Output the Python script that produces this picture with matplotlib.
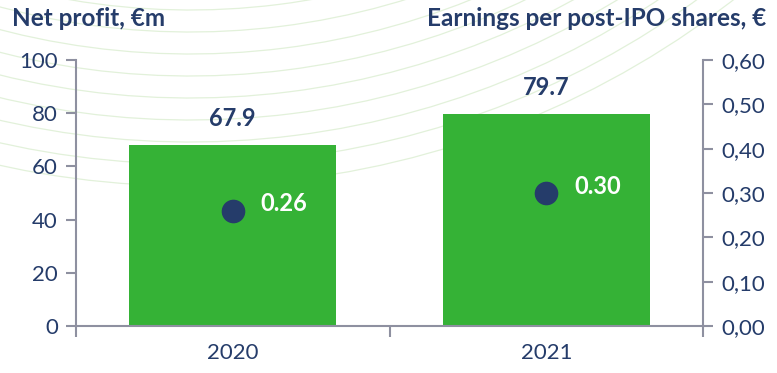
import matplotlib.pyplot as plt
import numpy as np
from matplotlib.patches import Arc

# data
years = ['2020', '2021']
net_profit = [67.9, 79.7]
eps = [0.26, 0.30]
left_ticks = [0, 20, 40, 60, 80, 100]
right_ticks = [0.0, 0.1, 0.2, 0.3, 0.4, 0.5, 0.6]

green = '#35B236'
navy = '#253C6A'
grey = '#8E90A0'

plt.rcParams['font.family'] = ['Lato', 'DejaVu Sans']

fig = plt.figure(figsize=(7.77, 3.73), dpi=100)

# faint decorative arcs in the background
for r in np.arange(710, 890, 22):
    arc = Arc((190 / 777, 1 + 700 / 373), 2 * r / 777, 2 * r / 373,
              theta1=230, theta2=330, transform=fig.transFigure,
              color='#E2F1DA', lw=0.9, zorder=0)
    fig.add_artist(arc)

ax = fig.add_axes([76 / 777, 47 / 373, 627 / 777, 266 / 373])
ax.patch.set_alpha(0)
ax2 = ax.twinx()

x = np.arange(len(years))
bars = ax.bar(x, net_profit, width=0.66, color=green, zorder=2)
ax.set_xlim(-0.5, 1.5)
ax.set_ylim(0, 100)
ax.set_yticks(left_ticks)
ax.set_xticks(x)
ax.set_xticklabels(years)
ax.set_xticks([-0.5, 0.5, 1.5], minor=True)

for xi, v in zip(x, net_profit):
    ax.annotate(f'{v:.1f}', (xi, v), xytext=(0, 19), textcoords='offset points',
                ha='center', va='center', fontsize=17, fontweight='bold', color=navy)

ax2.plot(x, eps, 'o', color=navy, markersize=16, zorder=3)
ax2.set_ylim(0, 0.6)
ax2.set_yticks(right_ticks)
ax2.set_yticklabels([f'{t:.2f}'.replace('.', ',') for t in right_ticks])
for xi, v in zip(x, eps):
    ax2.annotate(f'{v:.2f}', (xi, v), xytext=(20, 5), textcoords='offset points',
                 ha='left', va='center', fontsize=17, fontweight='bold', color='white')

for a in (ax, ax2):
    for s in a.spines.values():
        s.set_color(grey)
        s.set_linewidth(1.5)
    a.spines['top'].set_visible(False)
ax.spines['right'].set_visible(False)
ax2.spines['left'].set_visible(False)
ax2.spines['bottom'].set_visible(False)

ax.tick_params(axis='y', colors=grey, labelcolor=navy, labelsize=16, length=7, width=1.5, pad=6)
ax.tick_params(axis='x', which='major', length=0, labelcolor=navy, labelsize=16, pad=12)
ax.tick_params(axis='x', which='minor', colors=grey, length=8, width=1.5)
ax2.tick_params(axis='y', colors=grey, labelcolor=navy, labelsize=16, length=7, width=1.5, pad=6)

fig.text(12 / 777, 1 - 18 / 373, 'Net profit, €m', fontsize=17.5, fontweight='bold',
         color=navy, ha='left', va='center')
fig.text(766 / 777, 1 - 18 / 373, 'Earnings per post-IPO shares, €', fontsize=17.5,
         fontweight='bold', color=navy, ha='right', va='center')

fig.savefig('out.png', dpi=100)
